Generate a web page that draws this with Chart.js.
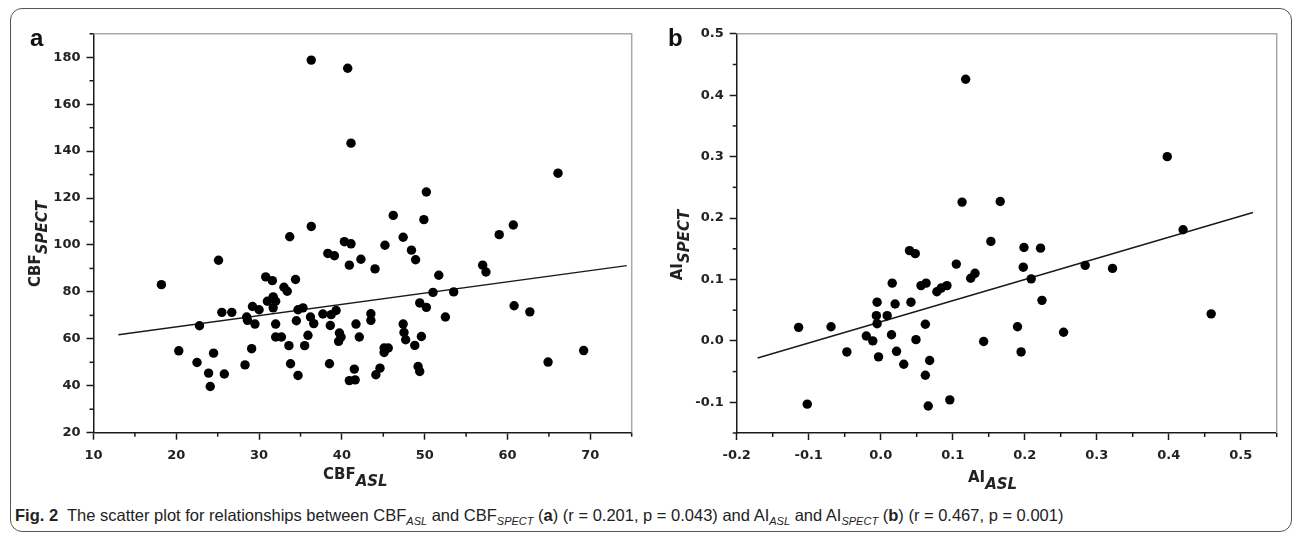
<!DOCTYPE html>
<html>
<head>
<meta charset="utf-8">
<script src="https://cdn.jsdelivr.net/npm/chart.js@4.4.0/dist/chart.umd.min.js"></script>
<style>
  body { margin: 0; width: 1293px; height: 534px; position: relative; overflow: hidden; background: #fff; }
  #frame { position: absolute; left: 10px; top: 8px; width: 1280px; height: 522px; border: 1.5px solid #555; border-radius: 12px; }
  .box { position: absolute; top: 20px; width: 610px; height: 450px; }
  #boxA { left: 40px; }
  #boxB { left: 680px; }
  .panel { position: absolute; top: 24px; font: bold 24px "Liberation Sans", Arial, sans-serif; color: #111; }
  .atitle { position: absolute; font: bold 15px "DejaVu Sans", sans-serif; color: #222; white-space: nowrap; }
  .atitle i { position: relative; top: 7px; }
  .ytitle { transform: translate(-50%, -50%) rotate(-90deg); }
  #cap { position: absolute; left: 15px; top: 506px; font: 16.5px "Liberation Sans Narrow", "Liberation Sans", sans-serif; color: #222; white-space: nowrap; }
  #cap sub { font-size: 11px; font-style: italic; }
</style>
</head>
<body>
<div id="frame"></div>

<div class="box" id="boxA"><canvas id="chartA" width="610" height="450"></canvas></div>
<div class="box" id="boxB"><canvas id="chartB" width="610" height="450"></canvas></div>

<div class="panel" style="left:30px">a</div>
<div class="panel" style="left:668px">b</div>

<div class="atitle ytitle" style="left:35px; top:244px">CBF<i>SPECT</i></div>
<div class="atitle" style="left:323px; top:465px">CBF<i>ASL</i></div>
<div class="atitle ytitle" style="left:677px; top:245px">AI<i>SPECT</i></div>
<div class="atitle" style="left:968px; top:468px">AI<i>ASL</i></div>

<div id="cap"><b>Fig. 2</b>&nbsp; The scatter plot for relationships between CBF<sub>ASL</sub> and CBF<sub>SPECT</sub> (<b>a</b>) (r = 0.201, p = 0.043) and AI<sub>ASL</sub> and AI<sub>SPECT</sub> (<b>b</b>) (r = 0.467, p = 0.001)</div>

<script>
// panel a: CBF values
const cbfAsl = [36.3, 40.7, 41.1, 66.1, 50.2, 46.2, 49.9, 36.3, 60.7, 59.0, 33.7, 47.4, 40.3, 41.1, 45.2, 48.4, 38.3, 39.1, 42.3, 48.9,
  25.1, 40.9, 57.0, 44.0, 57.4, 51.7, 30.8, 31.6, 34.4, 18.2, 33.0, 33.4, 51.0, 53.5, 31.0, 31.7, 32.0, 49.4, 60.8, 29.2,
  31.7, 50.2, 30.0, 34.7, 35.3, 39.3, 62.7, 25.5, 26.7, 43.5, 37.7, 38.7, 28.5, 36.2, 52.5, 28.6, 43.5, 34.5, 36.6, 29.5,
  32.0, 41.7, 47.4, 38.6, 22.8, 47.5, 39.7, 35.9, 49.6, 32.0, 32.7, 39.9, 42.1, 47.7, 39.6, 48.8, 33.6, 35.5, 45.6, 45.1,
  29.1, 69.2, 20.3, 45.1, 24.5, 64.9, 22.5, 33.8, 38.5, 28.3, 49.2, 44.6, 41.5, 49.4, 23.9, 25.8, 44.1, 34.7, 41.6, 40.9, 24.1];
const cbfSpect = [178.8, 175.3, 143.4, 130.6, 122.6, 112.6, 110.8, 107.9, 108.5, 104.4, 103.5, 103.3, 101.4, 100.5, 99.9, 97.8, 96.4, 95.4, 93.9, 93.7,
  93.5, 91.4, 91.4, 89.8, 88.5, 87.1, 86.4, 84.8, 85.3, 83.1, 82.0, 80.3, 79.8, 80.0, 76.0, 77.9, 76.0, 75.3, 74.1, 73.8,
  73.2, 73.4, 72.4, 72.4, 73.2, 72.1, 71.5, 71.3, 71.3, 70.7, 70.6, 70.3, 69.3, 69.3, 69.3, 67.9, 67.9, 67.7, 66.5, 66.3,
  66.3, 66.3, 66.3, 65.7, 65.6, 62.7, 62.5, 61.5, 61.0, 60.8, 60.8, 60.8, 60.8, 59.6, 58.9, 57.2, 57.1, 57.1, 56.1, 56.1,
  55.8, 55.0, 54.9, 54.2, 53.9, 50.1, 49.9, 49.4, 49.4, 48.9, 48.2, 47.5, 47.1, 46.1, 45.4, 45.0, 44.7, 44.4, 42.5, 42.2, 39.7];
const fitAX = [13.0, 74.4];
const fitAY = [61.7, 91.2];

// panel b: asymmetry index values
const aiAsl = [0.118, 0.398, 0.113, 0.166, 0.420, 0.153, 0.199, 0.222, 0.040, 0.048, 0.105, 0.284, 0.198, 0.322, 0.131, 0.125, 0.209,
  0.016, 0.063, 0.056, 0.092, 0.084, 0.078, 0.224, -0.005, 0.042, 0.020, 0.459, -0.006, 0.009, -0.005, 0.062, -0.069, -0.114,
  0.190, 0.254, 0.015, -0.020, 0.049, -0.011, 0.143, -0.047, 0.022, 0.195, -0.003, 0.068, 0.032, 0.062, 0.096, -0.102, 0.066];
const aiSpect = [0.426, 0.300, 0.226, 0.227, 0.181, 0.162, 0.152, 0.151, 0.147, 0.142, 0.125, 0.123, 0.120, 0.118, 0.110, 0.102, 0.101,
  0.094, 0.094, 0.090, 0.090, 0.086, 0.080, 0.066, 0.063, 0.063, 0.060, 0.044, 0.041, 0.041, 0.028, 0.027, 0.023, 0.022,
  0.023, 0.014, 0.010, 0.008, 0.002, 0.000, -0.001, -0.018, -0.017, -0.018, -0.026, -0.032, -0.038, -0.056, -0.096, -0.103, -0.106];
const fitBX = [-0.171, 0.517];
const fitBY = [-0.028, 0.209];

const ink = '#1a1a1a';

// gray top/right frame and short minor ticks between the labelled ones
const axisExtras = {
  id: 'axisExtras',
  beforeDatasetsDraw(chart) {
    const { ctx, chartArea: a } = chart;
    ctx.save();
    ctx.strokeStyle = '#a8a8a8';
    ctx.lineWidth = 1.5;
    ctx.beginPath();
    ctx.moveTo(a.left, a.top);
    ctx.lineTo(a.right, a.top);
    ctx.lineTo(a.right, a.bottom);
    ctx.stroke();
    ctx.restore();
  },
  afterDraw(chart) {
    const { ctx, chartArea: a, scales } = chart;
    ctx.save();
    ctx.strokeStyle = ink;
    ctx.lineWidth = 1.5;
    ['x', 'y'].forEach(k => {
      const s = scales[k], t = s.ticks;
      const half = (t[1].value - t[0].value) / 2;
      for (let v = t[0].value - half; v <= s.max + 1e-9; v += 2 * half) {
        if (v < s.min - 1e-9) continue;
        const p = s.getPixelForValue(v);
        ctx.beginPath();
        if (k === 'x') { ctx.moveTo(p, a.bottom); ctx.lineTo(p, a.bottom + 4); }
        else { ctx.moveTo(a.left, p); ctx.lineTo(a.left - 4, p); }
        ctx.stroke();
      }
    });
    ctx.restore();
  }
};

function axis(min, max, step, fmt, size, isX) {
  return {
    type: 'linear',
    min: min,
    max: max,
    ticks: {
      stepSize: step,
      includeBounds: false,
      autoSkip: false,
      maxRotation: 0,
      padding: isX ? 8 : 6,
      color: '#222',
      font: { family: 'DejaVu Sans', weight: 'bold', size: 13 },
      callback: fmt
    },
    grid: { drawOnChartArea: false, drawTicks: true, tickLength: 7, tickColor: ink, tickWidth: 1.5 },
    border: { color: ink, width: 1.5 },
    afterFit(s) { if (isX) s.height = size; else s.width = size; }
  };
}

function scatter(id, xs, ys, fx, fy, xAxis, yAxis, pad) {
  new Chart(document.getElementById(id), {
    type: 'scatter',
    data: {
      datasets: [
        {
          data: xs.map((x, i) => ({ x: x, y: ys[i] })),
          backgroundColor: '#000',
          borderWidth: 0,
          pointRadius: 4.7,
          pointHoverRadius: 4.7
        },
        {
          data: fx.map((x, i) => ({ x: x, y: fy[i] })),
          showLine: true,
          borderColor: ink,
          borderWidth: 1.5,
          pointRadius: 0
        }
      ]
    },
    options: {
      responsive: false,
      animation: false,
      devicePixelRatio: 1,
      layout: { padding: pad },
      plugins: { legend: { display: false }, tooltip: { enabled: false } },
      scales: { x: xAxis, y: yAxis }
    },
    plugins: [axisExtras]
  });
}

const plain = v => String(v);
const oneDec = v => Number(v).toFixed(1);

scatter('chartA', cbfAsl, cbfSpect, fitAX, fitAY,
  axis(10, 75, 10, plain, 37.3, true),
  axis(20, 190, 20, plain, 53.5, false),
  { top: 13.3, right: 18.3, left: 0, bottom: 0 });

scatter('chartB', aiAsl, aiSpect, fitBX, fitBY,
  axis(-0.2, 0.55, 0.1, oneDec, 37, true),
  axis(-0.15, 0.5, 0.1, oneDec, 56.7, false),
  { top: 13.3, right: 13.3, left: 0, bottom: 0 });
</script>
</body>
</html>
